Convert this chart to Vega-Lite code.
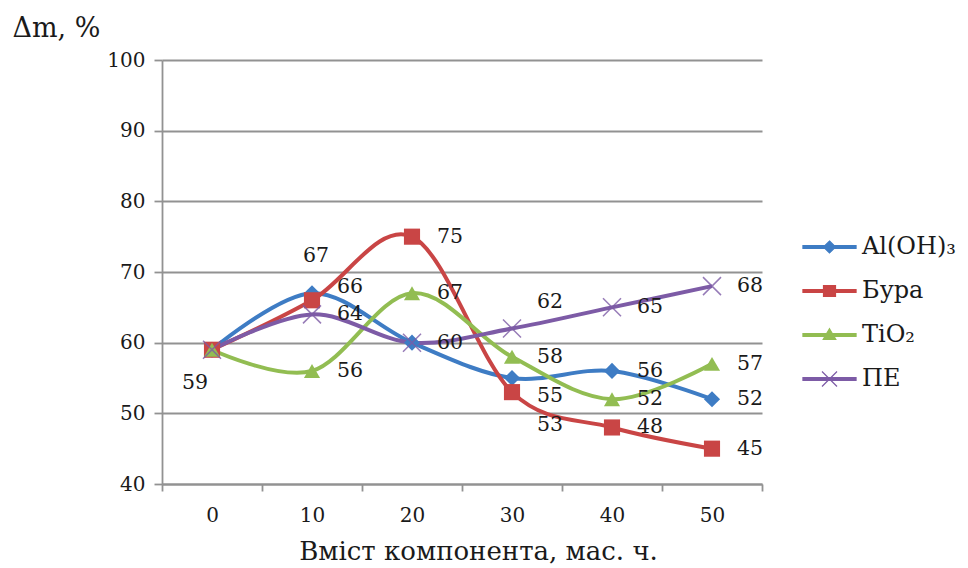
{
  "$schema": "https://vega.github.io/schema/vega-lite/v6.json",
  "width": 600,
  "height": 424,
  "autosize": "none",
  "padding": {"left": 162, "top": 60, "right": 206, "bottom": 84},
  "background": "white",
  "config": {
    "font": "DejaVu Serif",
    "view": {"stroke": null},
    "axis": {"labelFont": "DejaVu Serif", "titleFont": "DejaVu Serif", "labelColor": "#1a1a1a", "titleColor": "#1a1a1a", "titleFontWeight": "normal"}
  },
  "data": {
    "values": [
      {"series": "Al(OH)₃", "x": 0, "value": 59},
      {"series": "Al(OH)₃", "x": 10, "value": 67},
      {"series": "Al(OH)₃", "x": 20, "value": 60},
      {"series": "Al(OH)₃", "x": 30, "value": 55},
      {"series": "Al(OH)₃", "x": 40, "value": 56},
      {"series": "Al(OH)₃", "x": 50, "value": 52},
      {"series": "Бура", "x": 0, "value": 59},
      {"series": "Бура", "x": 10, "value": 66},
      {"series": "Бура", "x": 20, "value": 75},
      {"series": "Бура", "x": 30, "value": 53},
      {"series": "Бура", "x": 40, "value": 48},
      {"series": "Бура", "x": 50, "value": 45},
      {"series": "TiO₂", "x": 0, "value": 59},
      {"series": "TiO₂", "x": 10, "value": 56},
      {"series": "TiO₂", "x": 20, "value": 67},
      {"series": "TiO₂", "x": 30, "value": 58},
      {"series": "TiO₂", "x": 40, "value": 52},
      {"series": "TiO₂", "x": 50, "value": 57},
      {"series": "ПЕ", "x": 0, "value": 59},
      {"series": "ПЕ", "x": 10, "value": 64},
      {"series": "ПЕ", "x": 20, "value": 60},
      {"series": "ПЕ", "x": 30, "value": 62},
      {"series": "ПЕ", "x": 40, "value": 65},
      {"series": "ПЕ", "x": 50, "value": 68}
    ]
  },
  "encoding": {
    "x": {
      "field": "x",
      "type": "ordinal",
      "scale": {"type": "band", "paddingInner": 0, "paddingOuter": 0},
      "axis": {
        "title": "Вміст компонента, мас. ч.",
        "labelAngle": 0,
        "tickBand": "extent",
        "domainColor": "#929292",
        "domainWidth": 1.8,
        "tickColor": "#929292",
        "tickWidth": 1.8,
        "tickSize": 7,
        "labelFontSize": 20,
        "labelPadding": 14,
        "labelBaseline": "top",
        "titleFontSize": 26,
        "titleX": 316,
        "titleY": 75,
        "titleBaseline": "alphabetic",
        "titleAnchor": null,
        "titleAlign": "center"
      }
    },
    "y": {
      "field": "value",
      "type": "quantitative",
      "scale": {"domain": [40, 100], "nice": false, "zero": false},
      "axis": {
        "title": "Δm, %",
        "titleAngle": 0,
        "titleAlign": "left",
        "titleBaseline": "alphabetic",
        "titleX": -150,
        "titleY": -24,
        "titleFontSize": 27,
        "values": [40, 50, 60, 70, 80, 90, 100],
        "grid": true,
        "gridColor": "#929292",
        "gridWidth": 1.8,
        "domainColor": "#929292",
        "domainWidth": 1.8,
        "tickColor": "#929292",
        "tickWidth": 1.8,
        "tickSize": 8,
        "labelFontSize": 20,
        "labelPadding": 9
      }
    },
    "color": {
      "field": "series",
      "type": "nominal",
      "scale": {
        "domain": ["Al(OH)₃", "Бура", "TiO₂", "ПЕ"],
        "range": ["#3e7cc4", "#c94545", "#92bd52", "#7d5ba6"]
      },
      "legend": {
        "title": null,
        "orient": "none",
        "legendX": 651.5,
        "legendY": 171,
        "padding": 0,
        "symbolSize": 900,
        "symbolStrokeWidth": 1.2,
        "rowPadding": 16,
        "labelFontSize": 24,
        "labelFont": "DejaVu Serif",
        "labelColor": "#1a1a1a",
        "labelOffset": 16.5,
        "encode": {
          "symbols": {
            "update": {
              "shape": {"signal": "datum.value === 'Al(OH)₃' ? 'M-1.77,-0.09H1.77V0.09H-1.77Z M0,-0.4L0.4,0L0,0.4L-0.4,0Z' : datum.value === 'Бура' ? 'M-1.77,-0.09H1.77V0.09H-1.77Z M-0.4,-0.36H0.4V0.36H-0.4Z' : datum.value === 'TiO₂' ? 'M-1.77,-0.09H1.77V0.09H-1.77Z M0,-0.42L0.42,0.3H-0.42Z' : 'M-1.77,-0.09H1.77V0.09H-1.77Z M-0.5,-0.5L0.5,0.5M0.5,-0.5L-0.5,0.5'"},
              "fill": {"signal": "scale('color', datum.value)"},
              "stroke": {"signal": "scale('color', datum.value)"},
              "opacity": {"value": 1}
            }
          }
        }
      }
    }
  },
  "layer": [
    {
      "mark": {"type": "line", "strokeWidth": 4, "interpolate": "cardinal", "tension": 0}
    },
    {
      "transform": [{"filter": "datum.series !== 'ПЕ'"}],
      "mark": {"type": "point", "filled": true, "opacity": 1, "size": 260},
      "encoding": {
        "shape": {
          "field": "series",
          "type": "nominal",
          "scale": {"domain": ["Al(OH)₃", "Бура", "TiO₂"], "range": ["diamond", "square", "triangle-up"]},
          "legend": null
        }
      }
    },
    {
      "transform": [{"filter": "datum.series === 'ПЕ'"}],
      "mark": {"type": "point", "filled": false, "opacity": 0.8, "shape": "M-1,-1L1,1M1,-1L-1,1", "size": 324, "strokeWidth": 1.5}
    },
    {
      "transform": [{"filter": "!((datum.series === 'Al(OH)₃' && datum.x <= 30) || (datum.series === 'Бура' && (datum.x === 0 || datum.x === 10 || datum.x === 30)) || (datum.series === 'TiO₂' && datum.x === 0) || (datum.series === 'ПЕ' && (datum.x === 0 || datum.x === 30)))"}],
      "mark": {"type": "text", "align": "left", "baseline": "middle", "dx": 25, "fontSize": 20.5},
      "encoding": {"text": {"field": "value", "type": "quantitative"}, "color": {"value": "#1a1a1a"}}
    },
    {
      "transform": [{"filter": "datum.series === 'ПЕ' && datum.x === 0"}],
      "mark": {"type": "text", "align": "center", "baseline": "middle", "dx": -17, "dy": 33, "fontSize": 20.5},
      "encoding": {"text": {"field": "value", "type": "quantitative"}, "color": {"value": "#1a1a1a"}}
    },
    {
      "transform": [{"filter": "datum.series === 'Al(OH)₃' && datum.x === 10"}],
      "mark": {"type": "text", "align": "center", "baseline": "middle", "dx": 4, "dy": -37, "fontSize": 20.5},
      "encoding": {"text": {"field": "value", "type": "quantitative"}, "color": {"value": "#1a1a1a"}}
    },
    {
      "transform": [{"filter": "datum.series === 'Бура' && datum.x === 10"}],
      "mark": {"type": "text", "align": "left", "baseline": "middle", "dx": 25, "dy": -13, "fontSize": 20.5},
      "encoding": {"text": {"field": "value", "type": "quantitative"}, "color": {"value": "#1a1a1a"}}
    },
    {
      "transform": [{"filter": "datum.series === 'ПЕ' && datum.x === 30"}],
      "mark": {"type": "text", "align": "left", "baseline": "middle", "dx": 25, "dy": -27, "fontSize": 20.5},
      "encoding": {"text": {"field": "value", "type": "quantitative"}, "color": {"value": "#1a1a1a"}}
    },
    {
      "transform": [{"filter": "datum.series === 'Al(OH)₃' && datum.x === 30"}],
      "mark": {"type": "text", "align": "left", "baseline": "middle", "dx": 25, "dy": 18, "fontSize": 20.5},
      "encoding": {"text": {"field": "value", "type": "quantitative"}, "color": {"value": "#1a1a1a"}}
    },
    {
      "transform": [{"filter": "datum.series === 'Бура' && datum.x === 30"}],
      "mark": {"type": "text", "align": "left", "baseline": "middle", "dx": 25, "dy": 33, "fontSize": 20.5},
      "encoding": {"text": {"field": "value", "type": "quantitative"}, "color": {"value": "#1a1a1a"}}
    }
  ]
}
